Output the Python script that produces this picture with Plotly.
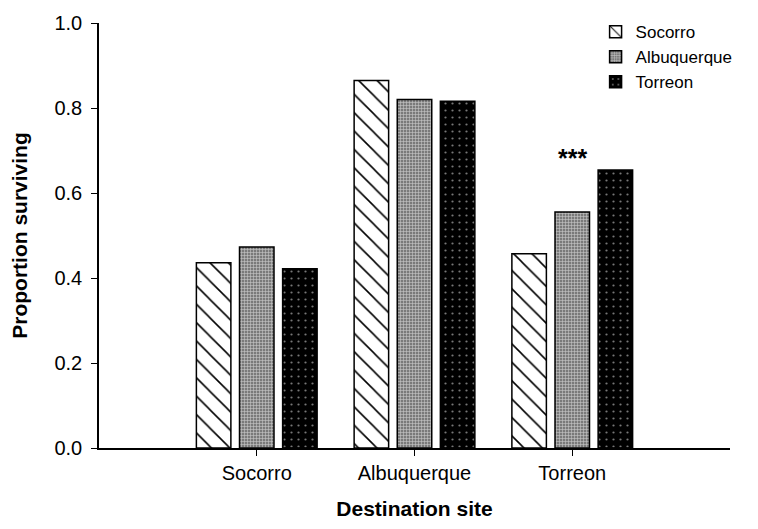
import plotly.graph_objects as go

# Destination sites (x categories) and source populations (series)
sites = ["Socorro", "Albuquerque", "Torreon"]
socorro = [0.436, 0.865, 0.457]
albuquerque = [0.473, 0.820, 0.555]
torreon = [0.422, 0.816, 0.654]

y_ticks = [0.0, 0.2, 0.4, 0.6, 0.8, 1.0]

FONT = "Liberation Sans, Arial, sans-serif"

styles = {
    "Socorro": dict(color="white",
                    pattern=dict(shape="\\", fgcolor="black", bgcolor="white",
                                 size=13, solidity=0.12, fillmode="replace")),
    "Albuquerque": dict(color="#8e8e8e",
                        pattern=dict(shape="+", fgcolor="#c8c8c8", bgcolor="#7a7a7a",
                                     size=3, solidity=0.35, fillmode="replace")),
    "Torreon": dict(color="black",
                    pattern=dict(shape=".", fgcolor="#777777", bgcolor="black",
                                 size=7, solidity=0.08, fillmode="replace")),
}

fig = go.Figure()
for name, vals in [("Socorro", socorro), ("Albuquerque", albuquerque), ("Torreon", torreon)]:
    st = styles[name]
    fig.add_trace(go.Bar(
        x=sites, y=vals, name=name,
        marker=dict(color=st["color"], pattern=st["pattern"],
                    line=dict(color="black", width=1.5)),
    ))

# Significance marker above the Torreon destination group (tallest bar of the group)
group_top = max(socorro[2], albuquerque[2], torreon[2])
fig.add_annotation(xref="x", yref="y", x=2, y=group_top, text="<b>***</b>",
                   showarrow=False, yanchor="middle", yshift=12,
                   font=dict(size=25, color="black", family=FONT))

fig.update_layout(
    width=758, height=529,
    margin=dict(l=99, r=28, t=20, b=78),
    paper_bgcolor="white", plot_bgcolor="white",
    barmode="group", bargap=0.18, bargroupgap=0.2,
    font=dict(family=FONT, size=20, color="black"),
    legend=dict(x=0.787, y=1.021, xanchor="left", yanchor="top",
                font=dict(size=17, family=FONT), bgcolor="rgba(0,0,0,0)",
                tracegroupgap=0),
    xaxis=dict(
        range=[-1, 3], showline=True, linecolor="black", linewidth=1.5,
        ticks="outside", ticklen=6, tickcolor="black", tickwidth=1,
        showgrid=False, zeroline=False,
        tickfont=dict(size=20, family=FONT),
        title=dict(text="<b>Destination site</b>", font=dict(size=21, family=FONT), standoff=19),
    ),
    yaxis=dict(
        range=[0, 1.0], tickvals=y_ticks, tickformat=".1f",
        showline=True, linecolor="black", linewidth=1.5,
        ticks="outside", ticklen=6, tickcolor="black", tickwidth=1,
        ticklabelstandoff=5,
        showgrid=False, zeroline=False,
        tickfont=dict(size=20, family=FONT),
        title=dict(text="<b>Proportion surviving</b>", font=dict(size=21, family=FONT), standoff=21),
    ),
)

fig.write_html("out.html")
